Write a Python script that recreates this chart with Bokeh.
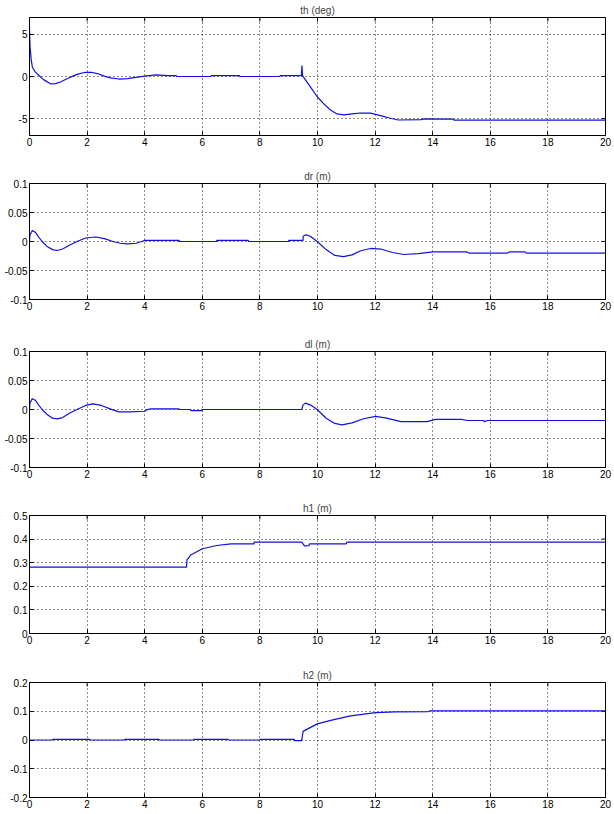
from bokeh.plotting import figure
from bokeh.layouts import column
from bokeh.models import FixedTicker, CustomJSTickFormatter, Range1d
from bokeh.embed import file_html
from bokeh.resources import INLINE

# ---------------- data ----------------
x_ticks = [0, 2, 4, 6, 8, 10, 12, 14, 16, 18, 20]

th_t = [0, 0.02, 0.06, 0.1, 0.2, 0.3, 0.5, 0.73, 0.9, 1.08, 1.25, 1.42, 1.65, 1.94, 2.15,
        2.35, 2.6, 2.81, 3.1, 3.4, 3.7, 4.0, 4.4, 4.8, 5.1, 5.1, 6.3, 6.3, 7.3, 7.3, 8.7,
        8.7, 9.44, 9.46, 9.48, 9.52, 9.76, 9.99, 10.22, 10.45, 10.68, 10.91, 11.2, 11.49,
        11.84, 12.19, 12.5, 12.8, 13.6, 13.7, 14.7, 14.75, 20]
th_v = [5.7, 3.5, 2.0, 1.1, 0.55, 0.2, -0.4, -0.87, -0.85, -0.65, -0.35, -0.08, 0.25, 0.5, 0.5,
        0.35, 0.05, -0.16, -0.3, -0.25, -0.1, 0.05, 0.2, 0.1, 0.1, 0.0, 0.0, 0.1, 0.1, 0.0, 0.0,
        0.1, 0.1, 1.3, 0.1, -0.1, -1.27, -2.4, -3.25, -3.97, -4.44, -4.56, -4.44, -4.33,
        -4.35, -4.64, -4.92, -5.16, -5.12, -5.02, -5.05, -5.18, -5.18]
th_ticks = [-5, 0, 5]

dr_t = [0, 0.02, 0.1, 0.2, 0.3, 0.44, 0.6, 0.8, 0.96, 1.15, 1.4, 1.65, 1.95, 2.3, 2.6, 2.9,
        3.15, 3.4, 3.7, 3.9, 4.0, 5.2, 5.2, 6.5, 6.5, 7.6, 7.6, 9.0, 9.0, 9.5, 9.5, 9.6, 9.75,
        9.99, 10.3, 10.6, 10.9, 11.2, 11.5, 11.85, 12.2, 12.6, 13.0, 13.5, 14.0, 15.2, 15.25,
        16.6, 16.65, 17.2, 17.25, 20]
dr_v = [0, 0.012, 0.019, 0.016, 0.009, 0.0, -0.008, -0.014, -0.0155, -0.013, -0.006, 0.0,
        0.006, 0.0078, 0.005, 0.0, -0.003, -0.004, -0.003, 0.0, 0.002, 0.002, 0.0, 0.0, 0.002,
        0.002, 0.0, 0.0, 0.002, 0.002, 0.009, 0.0115, 0.009, 0.0, -0.014, -0.024, -0.026,
        -0.023, -0.016, -0.012, -0.013, -0.019, -0.0224, -0.021, -0.018, -0.018, -0.020,
        -0.020, -0.018, -0.018, -0.020, -0.020]
dr_ticks = [-0.1, -0.05, 0, 0.05, 0.1]

dl_t = [0, 0.02, 0.1, 0.2, 0.3, 0.44, 0.6, 0.8, 0.96, 1.15, 1.4, 1.65, 1.95, 2.2, 2.5, 2.8,
        3.1, 3.5, 4.0, 4.1, 4.2, 5.2, 5.2, 5.6, 5.6, 6.0, 6.0, 9.45, 9.5, 9.58, 9.75, 9.99,
        10.3, 10.6, 10.85, 11.2, 11.6, 12.02, 12.4, 12.9, 13.8, 14.1, 15.0, 15.2, 15.75, 15.8,
        15.9, 20]
dl_v = [0, 0.012, 0.0187, 0.016, 0.009, 0.0, -0.008, -0.015, -0.0163, -0.014, -0.006, 0.0,
        0.007, 0.0097, 0.007, 0.001, -0.004, -0.004, -0.003, 0.0, 0.001, 0.001, 0.0, 0.0,
        -0.002, -0.002, 0.0, 0.0, 0.008, 0.011, 0.008, 0.0, -0.015, -0.024, -0.0266, -0.023,
        -0.016, -0.012, -0.015, -0.021, -0.021, -0.017, -0.017, -0.019, -0.019, -0.021,
        -0.019, -0.019]
dl_ticks = [-0.1, -0.05, 0, 0.05, 0.1]

h1_t = [0, 5.45, 5.47, 5.6, 6.0, 6.5, 7.0, 7.8, 7.8, 9.45, 9.55, 9.7, 9.72, 11.0, 11.02, 20]
h1_v = [0.281, 0.281, 0.312, 0.333, 0.359, 0.373, 0.380, 0.380, 0.387, 0.387, 0.371, 0.372,
        0.380, 0.380, 0.387, 0.387]
h1_ticks = [0, 0.1, 0.2, 0.3, 0.4, 0.5]

h2_t = [0, 0.8, 0.8, 2.1, 2.1, 3.3, 3.3, 4.5, 4.5, 5.7, 5.7, 6.9, 6.9, 8.0, 8.0, 9.2, 9.2,
        9.45, 9.5, 9.99, 10.57, 11.15, 12.02, 12.7, 13.85, 13.9, 20]
h2_v = [0, 0, 0.002, 0.002, 0, 0, 0.002, 0.002, 0, 0, 0.002, 0.002, 0, 0, 0.002, 0.002,
        -0.002, -0.002, 0.03, 0.056, 0.071, 0.084, 0.095, 0.098, 0.099, 0.101, 0.101]
h2_ticks = [-0.2, -0.1, 0, 0.1, 0.2]

panels = [
    # title, t, v, y range, ticks, top border, frame height, bottom border
    ("th (deg)", th_t, th_v, (-7, 7), th_ticks, 17, 118, 30),
    ("dr (m)", dr_t, dr_v, (-0.1, 0.1), dr_ticks, 18, 116, 34),
    ("dl (m)", dl_t, dl_v, (-0.1, 0.1), dl_ticks, 18, 116, 30),
    ("h1 (m)", h1_t, h1_v, (0, 0.5), h1_ticks, 18, 118, 31),
    ("h2 (m)", h2_t, h2_v, (-0.2, 0.2), h2_ticks, 18, 115, 16),
]

FONT = "Liberation Sans"
FW = 576
TICK = 4
fmt = CustomJSTickFormatter(code="return tick.toString();")


def style_axis(ax, ticks):
    ax.ticker = FixedTicker(ticks=ticks)
    ax.formatter = fmt
    ax.major_tick_in = TICK
    ax.major_tick_out = 0
    ax.minor_tick_line_color = None
    ax.axis_line_color = "black"
    ax.major_tick_line_color = "black"
    ax.major_label_text_font = FONT
    ax.major_label_text_color = "black"
    ax.major_label_text_font_size = "10px"
    ax.major_label_standoff = 2


figs = []
for title, t, v, yr, yt, bt, fh, bb in panels:
    p = figure(frame_width=FW, frame_height=fh, output_backend="svg", toolbar_location=None,
               x_range=Range1d(0, 20), y_range=Range1d(*yr),
               min_border_left=29, min_border_right=9, min_border_top=bt, min_border_bottom=bb,
               title=title)
    p.title.align = "center"
    p.title.text_font = FONT
    p.title.text_font_size = "10px"
    p.title.text_font_style = "normal"
    p.title.standoff = 4
    p.title.offset = 0
    p.background_fill_color = "white"
    p.border_fill_color = "white"
    p.outline_line_color = "black"
    p.outline_line_width = 1

    style_axis(p.xaxis[0], x_ticks)
    style_axis(p.yaxis[0], yt)

    for g in (p.xgrid[0], p.ygrid[0]):
        g.grid_line_color = "black"
        g.grid_line_dash = "1 3"
        g.grid_line_width = 1
        g.grid_line_alpha = 0.9
    p.xgrid[0].ticker = FixedTicker(ticks=x_ticks)
    p.ygrid[0].ticker = FixedTicker(ticks=yt)

    # inward tick marks on the top and right edges of the box (MATLAB style)
    y0, y1 = yr
    dy = (y1 - y0) * TICK / fh
    dx = 20.0 * TICK / FW
    p.segment(x0=x_ticks, x1=x_ticks, y0=[y1] * len(x_ticks), y1=[y1 - dy] * len(x_ticks),
              line_color="black", line_width=1)
    p.segment(x0=[20] * len(yt), x1=[20 - dx] * len(yt), y0=yt, y1=yt,
              line_color="black", line_width=1)

    p.line(t, v, line_color="#1010e0", line_width=1.2)
    figs.append(p)

layout = column(*figs, spacing=0)
open("out.html", "w").write(file_html(layout, INLINE))
